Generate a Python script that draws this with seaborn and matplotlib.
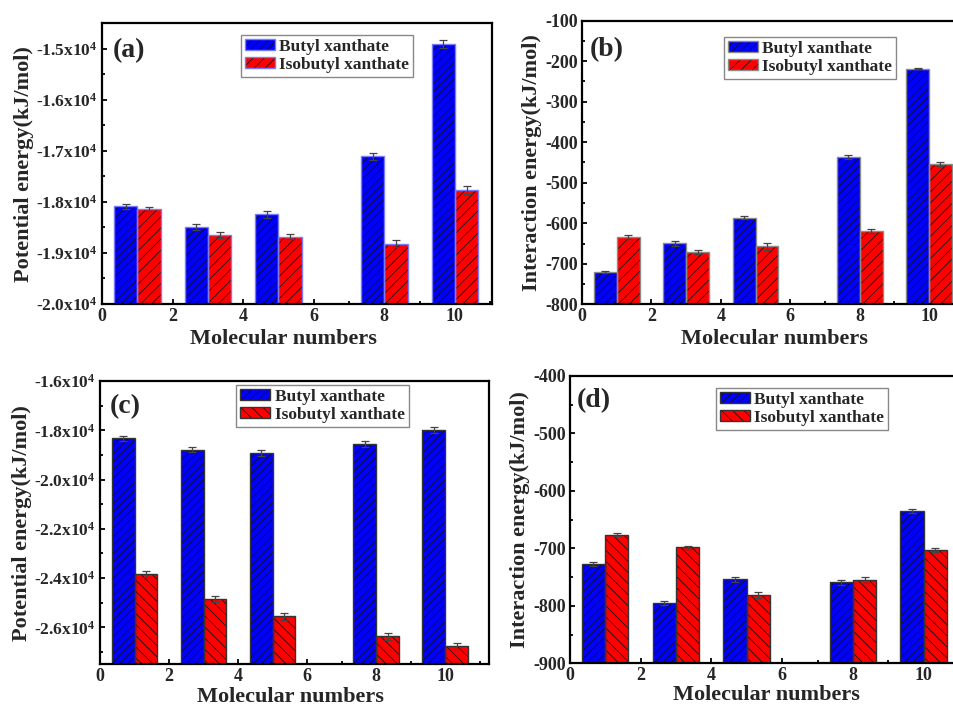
import numpy as np
import pandas as pd
import matplotlib
matplotlib.use("Agg")
import matplotlib.pyplot as plt
import seaborn as sns
from matplotlib.ticker import MultipleLocator, FuncFormatter
from matplotlib.patches import Patch, Rectangle
from matplotlib.legend_handler import HandlerTuple

# ---------------- data ----------------
molecules = [1, 3, 5, 8, 10]
series_names = ["Butyl xanthate", "Isobutyl xanthate"]

a_butyl = [-18086, -18490, -18242, -17109, -14902]
a_isobutyl = [-18139, -18652, -18678, -18815, -17773]
a_butyl_err = [50, 60, 70, 60, 75]
a_isobutyl_err = [45, 55, 55, 60, 80]

b_butyl = [-721, -649, -586, -437, -218]
b_isobutyl = [-634, -670, -657, -619, -454]
b_butyl_err = [2, 6, 3, 5, 1]
b_isobutyl_err = [4, 5, 8, 5, 4]

c_butyl = [-18317, -18789, -18927, -18573, -17992]
c_isobutyl = [-23846, -24846, -25553, -26366, -26756]
c_butyl_err = [100, 100, 110, 120, 120]
c_isobutyl_err = [130, 110, 140, 130, 120]

d_butyl = [-727, -795, -754, -759, -635]
d_isobutyl = [-676, -698, -781, -755, -703]
d_butyl_err = [4, 4, 4, 4, 4]
d_isobutyl_err = [3, 3, 5, 5, 4]

x_label = "Molecular numbers"
y_label_pot = "Potential energy(kJ/mol)"
y_label_int = "Interaction energy(kJ/mol)"

# ---------------- style ----------------
sns.set_theme(style="ticks")
plt.rcParams.update({
    "font.family": ["Liberation Serif", "DejaVu Serif"],
    "font.weight": "bold",
    "axes.labelweight": "bold",
    "axes.unicode_minus": False,
    "mathtext.fontset": "custom",
    "mathtext.rm": "Liberation Serif:bold",
    "mathtext.it": "Liberation Serif:bold",
    "mathtext.bf": "Liberation Serif:bold",
    "mathtext.default": "rm",
    "hatch.linewidth": 0.55,
    "xtick.direction": "in",
    "ytick.direction": "in",
})

BLUE = "#0000ff"
RED = "#ff0000"
palette = {series_names[0]: BLUE, series_names[1]: RED}
BLUE_HATCH = "////"

W, H = 954, 705
fig = plt.figure(figsize=(W / 100, H / 100), dpi=100)


def sci_fmt(v, pos):
    return f"{v / 1e4:.1f}x$10^{{4}}$"


panels = [
    dict(label="(a)", butyl=a_butyl, iso=a_isobutyl, eb=a_butyl_err, ei=a_isobutyl_err,
         px=(102, 23.3, 492, 304), xmax=11.05, ylim=(-20000, -14500), major=1000, minor=500,
         ylabel=y_label_pot, sci=True, red_hatch="///", outline="#7a7aff",
         leg=(0.356, 0.958), lab=(0.028, 0.904), xlab_x=0.464, xlpad=2.5),
    dict(label="(b)", butyl=b_butyl, iso=b_isobutyl, eb=b_butyl_err, ei=b_isobutyl_err,
         px=(582, 20.7, 582 + 34.7 * 11.1, 304.3), xmax=11.1, ylim=(-800, -100), major=100, minor=50,
         ylabel=y_label_int, sci=False, red_hatch="///", outline="#8a8a8a",
         leg=(0.368, 0.9425), lab=(0.02, 0.897), xlab_x=None, xlpad=2.5),
    dict(label="(c)", butyl=c_butyl, iso=c_isobutyl, eb=c_butyl_err, ei=c_isobutyl_err,
         px=(100, 381, 489, 664.3), xmax=11.27, ylim=(-27500, -16000), major=2000, minor=1000,
         ylabel=y_label_pot, sci=True, red_hatch="\\\\\\", outline="#333333",
         leg=(0.35, 0.986), lab=(0.026, 0.909), xlab_x=0.49, xlpad=1),
    dict(label="(d)", butyl=d_butyl, iso=d_isobutyl, eb=d_butyl_err, ei=d_isobutyl_err,
         px=(569.7, 376, 569.7 + 35.4 * 11.1, 663.3), xmax=11.1, ylim=(-900, -400), major=100, minor=50,
         ylabel=y_label_int, sci=False, red_hatch="\\\\\\", outline="#333333",
         leg=(0.372, 0.959), lab=(0.019, 0.916), xlab_x=None, xlpad=0.5),
]

for p in panels:
    l, t, r, b = p["px"]
    ax = fig.add_axes([l / W, 1 - b / H, (r - l) / W, (b - t) / H])
    base = p["ylim"][0]
    df = pd.DataFrame({
        x_label: molecules + molecules,
        "Energy": list(p["butyl"]) + list(p["iso"]),
        "Series": [series_names[0]] * len(molecules) + [series_names[1]] * len(molecules),
    })
    df["Height"] = df["Energy"] - base
    sns.barplot(data=df, x=x_label, y="Height", hue="Series", hue_order=series_names,
                native_scale=True, width=0.66, palette=palette, saturation=1,
                errorbar=None, legend=False, bottom=base, linewidth=0, ax=ax)

    hatches = [BLUE_HATCH, p["red_hatch"]]
    errs = [p["eb"], p["ei"]]
    for cont, hatch, err in zip(ax.containers, hatches, errs):
        xs, ys = [], []
        for bar in cont:
            bar.set_hatch(hatch)
            bar.set_edgecolor("#111111")
            bar.set_linewidth(0)
            ax.add_patch(Rectangle(bar.get_xy(), bar.get_width(), bar.get_height(),
                                   fill=False, ec=p["outline"], lw=1.0,
                                   zorder=bar.get_zorder() + 0.1))
            xs.append(bar.get_x() + bar.get_width() / 2)
            ys.append(bar.get_y() + bar.get_height())
        ax.errorbar(xs, ys, yerr=err, fmt="none", ecolor="#444444", elinewidth=0.9,
                    capsize=3, capthick=0.9, zorder=4)

    ax.set_xlim(0, p["xmax"])
    ax.set_ylim(*p["ylim"])
    ax.xaxis.set_major_locator(MultipleLocator(2))
    ax.xaxis.set_minor_locator(MultipleLocator(1))
    ax.yaxis.set_major_locator(MultipleLocator(p["major"]))
    ax.yaxis.set_minor_locator(MultipleLocator(p["minor"]))
    ax.xaxis.set_major_formatter(FuncFormatter(lambda v, pos: f"{v:.0f}"))
    if p["sci"]:
        ax.yaxis.set_major_formatter(FuncFormatter(sci_fmt))
        ylab_size = 12.5
    else:
        ax.yaxis.set_major_formatter(FuncFormatter(lambda v, pos: f"{v:.0f}"))
        ylab_size = 13
    ax.tick_params(which="major", length=3.5, width=1.3, labelsize=13, pad=3,
                   top=False, right=False, color="black")
    ax.tick_params(axis="y", which="major", labelsize=ylab_size)
    ax.tick_params(which="minor", length=2.5, width=1.3, top=False, right=False, color="black")
    for s in ax.spines.values():
        s.set_linewidth(1.6)
        s.set_color("black")
    ax.set_xlabel(x_label, fontsize=16, fontweight="bold", labelpad=p["xlpad"])
    if p["xlab_x"] is not None:
        ax.xaxis.label.set_x(p["xlab_x"])
    ax.set_ylabel(p["ylabel"], fontsize=16, fontweight="bold", labelpad=2)
    ax.grid(False)

    ax.text(p["lab"][0], p["lab"][1], p["label"], transform=ax.transAxes,
            fontsize=20, fontweight="bold", ha="left", va="center")

    handles = [
        (Patch(fc=BLUE, ec="#111111", lw=0, hatch=BLUE_HATCH), Patch(fill=False, ec=p["outline"], lw=1)),
        (Patch(fc=RED, ec="#111111", lw=0, hatch=p["red_hatch"]), Patch(fill=False, ec=p["outline"], lw=1)),
    ]
    leg = ax.legend(handles, series_names, handler_map={tuple: HandlerTuple(ndivide=1)},
                    loc="upper left", bbox_to_anchor=p["leg"], borderaxespad=0,
                    prop={"weight": "bold", "size": 12.5},
                    frameon=True, fancybox=False, edgecolor="#888888", framealpha=1,
                    handlelength=1.75, handleheight=0.6, handletextpad=0.25,
                    labelspacing=0.12, borderpad=0.22)
    leg.get_frame().set_linewidth(1.0)

fig.savefig("out.png", dpi=100)
